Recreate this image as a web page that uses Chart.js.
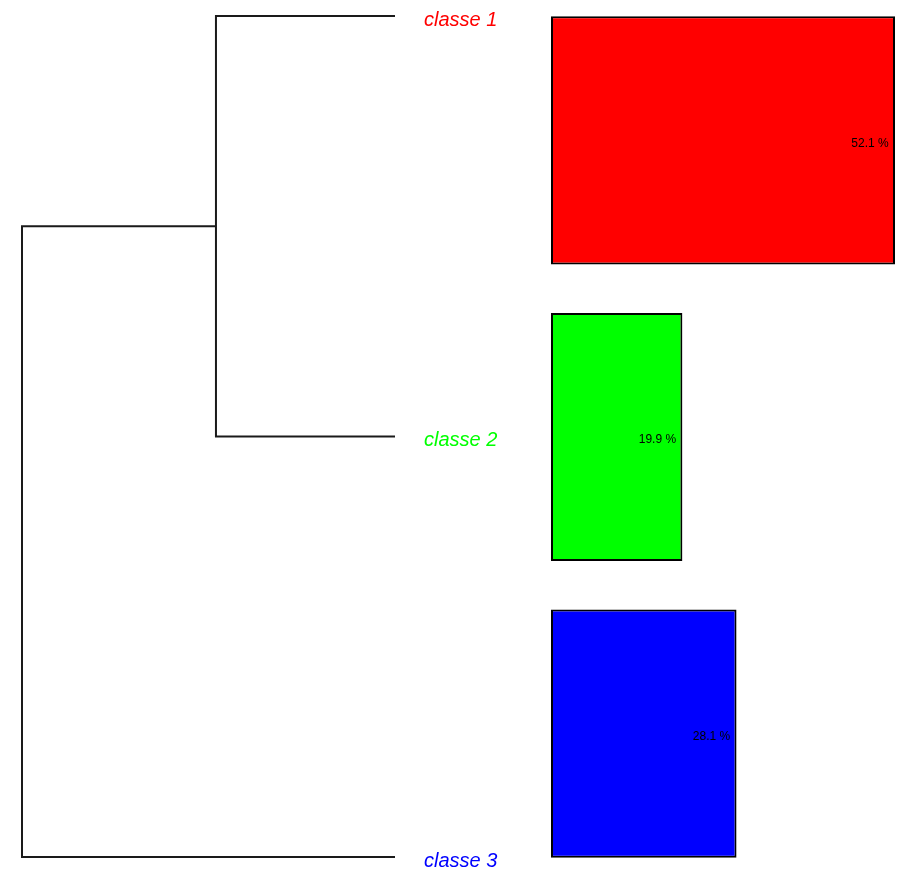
<!DOCTYPE html>
<html>
<head>
<meta charset="utf-8">
<script src="https://cdn.jsdelivr.net/npm/chart.js@4/dist/chart.umd.min.js"></script>
<style>
    html, body { margin: 0; padding: 0; background: #fff; overflow: hidden; }
    #wrap { position: relative; width: 899px; height: 875px; }
    #treeBox { position: absolute; left: 0; top: 0; width: 540px; height: 875px; }
    #barBox { position: absolute; left: 540px; top: -8px; width: 359px; height: 890px; }
</style>
</head>
<body>
<div id="wrap">
    <div id="treeBox"><canvas id="treeChart"></canvas></div>
    <div id="barBox"><canvas id="barChart"></canvas></div>
</div>
<script>
const classes = ["classe 1", "classe 2", "classe 3"];
const shares = [52.1, 19.9, 28.1];
const classColors = ["#ff0000", "#00ff00", "#0000ff"];
const leafPos = [1, 2, 3];
const mergeHeights = [0.48, 1.0]; // (1,2) puis ((1,2),3)

renderTree();
renderBars();

function renderTree() {
    const h12 = mergeHeights[0];
    const hRoot = mergeHeights[1];
    const mid12 = (leafPos[0] + leafPos[1]) / 2;

    // branches du dendrogramme
    const segments = [
        [{ x: 0, y: leafPos[0] }, { x: h12, y: leafPos[0] }, { x: h12, y: leafPos[1] }, { x: 0, y: leafPos[1] }],
        [{ x: h12, y: mid12 }, { x: hRoot, y: mid12 }, { x: hRoot, y: leafPos[2] }, { x: 0, y: leafPos[2] }],
    ];

    const leafLabels = {
        id: "leafLabels",
        afterDatasetsDraw(chart) {
            const ctx = chart.ctx;
            const xs = chart.scales.x;
            const ys = chart.scales.y;
            ctx.save();
            ctx.font = "italic 20px 'Liberation Sans', Arial, sans-serif";
            ctx.textAlign = "left";
            ctx.textBaseline = "middle";
            classes.forEach((name, i) => {
                ctx.fillStyle = classColors[i];
                ctx.fillText(name, xs.getPixelForValue(0) + 29, ys.getPixelForValue(leafPos[i]) + 4);
            });
            ctx.restore();
        },
    };

    new Chart(document.getElementById("treeChart").getContext("2d"), {
        type: "scatter",
        data: {
            datasets: segments.map((pts) => ({
                data: pts,
                showLine: true,
                borderColor: "#1a1a1a",
                borderWidth: 2,
                pointRadius: 0,
                tension: 0,
                clip: false,
            })),
        },
        options: {
            responsive: true,
            maintainAspectRatio: false,
            animation: false,
            layout: { padding: { left: 22, right: 145, top: 16, bottom: 18 } },
            plugins: { legend: { display: false }, tooltip: { enabled: false } },
            scales: {
                x: { type: "linear", reverse: true, min: 0, max: hRoot, display: false },
                y: { type: "linear", reverse: true, min: leafPos[0], max: leafPos[2], display: false },
            },
        },
        plugins: [leafLabels],
    });
}

function renderBars() {
    const pctLabels = {
        id: "pctLabels",
        afterDatasetsDraw(chart) {
            const ctx = chart.ctx;
            ctx.save();
            ctx.font = "12px 'Liberation Sans', Arial, sans-serif";
            ctx.fillStyle = "#000";
            ctx.textAlign = "center";
            ctx.textBaseline = "middle";
            chart.getDatasetMeta(0).data.forEach((bar, i) => {
                ctx.fillText(shares[i].toFixed(1) + " %", bar.x - 25, bar.y + 3);
            });
            ctx.restore();
        },
    };

    new Chart(document.getElementById("barChart").getContext("2d"), {
        type: "bar",
        data: {
            labels: classes,
            datasets: [
                {
                    data: shares,
                    backgroundColor: classColors,
                    borderColor: "#000",
                    borderWidth: 2,
                    borderSkipped: false,
                    categoryPercentage: 1,
                    barPercentage: 0.8364,
                },
            ],
        },
        options: {
            indexAxis: "y",
            responsive: true,
            maintainAspectRatio: false,
            animation: false,
            layout: { padding: { left: 11, right: 4, top: 0, bottom: 0 } },
            plugins: { legend: { display: false }, tooltip: { enabled: false } },
            scales: {
                x: { min: 0, max: Math.max(...shares), display: false },
                y: { display: false },
            },
        },
        plugins: [pctLabels],
    });
}
</script>
</body>
</html>
